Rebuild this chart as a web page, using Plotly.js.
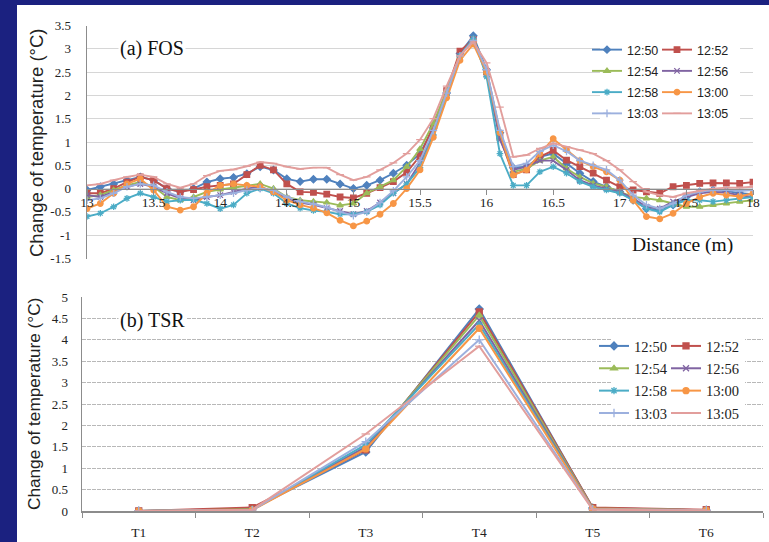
<!DOCTYPE html>
<html>
<head>
<meta charset="utf-8">
<script src="https://cdn.plot.ly/plotly-3.0.1.min.js"></script>
<style>
html,body{margin:0;padding:0;background:#1b2180;}
#chart{width:769px;height:542px;}
</style>
</head>
<body>
<div id="chart"></div>
<script>
// ---------- DATA ----------
var seriesNames = ["12:50","12:52","12:54","12:56","12:58","13:00","13:03","13:05"];

// (a) FOS : distance (m)
var distance = [13.0,13.1,13.2,13.3,13.4,13.5,13.6,13.7,13.8,13.9,
                14.0,14.1,14.2,14.3,14.4,14.5,14.6,14.7,14.8,14.9,
                15.0,15.1,15.2,15.3,15.4,15.5,15.6,15.7,15.8,15.9,
                16.0,16.1,16.2,16.3,16.4,16.5,16.6,16.7,16.8,16.9,
                17.0,17.1,17.2,17.3,17.4,17.5,17.6,17.7,17.8,17.9,18.0];

var fos1250 = [-0.03,0.04,0.1,0.18,0.25,0.18,0.0,-0.07,0.0,0.14,
               0.21,0.24,0.32,0.47,0.4,0.21,0.15,0.2,0.2,0.1,
               0.0,0.07,0.18,0.33,0.5,0.75,1.3,2.05,2.9,3.28,
               2.55,1.2,0.45,0.47,0.68,0.75,0.54,0.33,0.15,0.04,
               -0.07,-0.25,-0.43,-0.46,-0.35,-0.18,-0.07,-0.03,-0.05,-0.1,-0.12];
var fos1252 = [-0.1,-0.1,0.0,0.14,0.25,0.18,0.0,-0.07,-0.02,0.04,
               0.07,0.1,0.3,0.5,0.4,0.1,-0.07,-0.08,-0.12,-0.18,
               -0.2,-0.1,0.02,0.15,0.35,0.7,1.35,2.1,2.95,3.2,
               2.5,1.1,0.3,0.4,0.68,0.82,0.61,0.47,0.33,0.18,
               0.04,-0.03,-0.07,-0.1,0.04,0.07,0.11,0.12,0.12,0.11,0.14];
var fos1254 = [-0.18,-0.14,-0.03,0.07,0.14,0.04,-0.18,-0.25,-0.18,-0.07,
               -0.02,0.02,0.07,0.1,0.0,-0.18,-0.25,-0.28,-0.3,-0.36,
               -0.32,-0.1,0.04,0.18,0.47,0.85,1.4,2.1,2.85,3.2,
               2.5,1.1,0.36,0.43,0.6,0.68,0.43,0.25,0.11,0.04,
               -0.07,-0.18,-0.21,-0.25,-0.32,-0.39,-0.39,-0.35,-0.32,-0.28,-0.25];
var fos1256 = [-0.14,-0.18,-0.07,0.04,0.1,0.04,-0.1,-0.21,-0.25,-0.18,
               -0.14,-0.07,0.0,0.04,-0.07,-0.21,-0.3,-0.35,-0.42,-0.48,
               -0.55,-0.48,-0.3,-0.1,0.1,0.55,1.2,2.0,2.85,3.2,
               2.45,1.05,0.4,0.47,0.6,0.6,0.4,0.18,0.07,0.0,
               -0.07,-0.21,-0.39,-0.43,-0.28,-0.18,-0.1,-0.07,-0.09,-0.14,-0.18];
var fos1258 = [-0.6,-0.53,-0.39,-0.21,-0.1,-0.18,-0.28,-0.25,-0.24,-0.32,
               -0.43,-0.35,-0.1,0.0,-0.1,-0.32,-0.42,-0.47,-0.5,-0.55,
               -0.55,-0.5,-0.35,-0.1,0.1,0.45,1.15,2.0,2.85,3.22,
               2.4,0.75,0.07,0.07,0.36,0.47,0.33,0.15,0.04,-0.03,
               -0.1,-0.25,-0.43,-0.5,-0.35,-0.25,-0.25,-0.28,-0.25,-0.21,-0.18];
var fos1300 = [-0.43,-0.32,-0.1,0.1,0.21,-0.03,-0.39,-0.46,-0.39,-0.1,
               0.07,0.1,0.07,0.04,-0.07,-0.25,-0.35,-0.42,-0.52,-0.68,
               -0.8,-0.7,-0.55,-0.32,0.0,0.4,1.1,1.95,2.75,3.1,
               2.5,1.2,0.29,0.4,0.75,1.07,0.83,0.6,0.47,0.36,
               0.18,-0.25,-0.6,-0.65,-0.53,-0.32,-0.18,-0.1,-0.14,-0.17,-0.1];
var fos1303 = [-0.25,-0.21,-0.1,0.04,0.1,0.07,-0.07,-0.18,-0.21,-0.18,
               -0.14,-0.1,-0.03,0.0,-0.03,-0.18,-0.28,-0.33,-0.4,-0.5,
               -0.58,-0.5,-0.3,-0.05,0.25,0.6,1.25,2.05,2.85,3.18,
               2.55,1.25,0.47,0.54,0.8,0.93,0.8,0.6,0.5,0.4,
               0.18,-0.14,-0.35,-0.43,-0.32,-0.14,-0.07,-0.03,-0.03,-0.05,-0.03];
var fos1305 = [0.07,0.1,0.18,0.25,0.3,0.25,0.1,0.02,0.1,0.28,
               0.38,0.41,0.48,0.57,0.54,0.47,0.42,0.45,0.45,0.3,
               0.18,0.25,0.4,0.55,0.75,1.05,1.5,2.2,2.85,3.15,
               2.7,1.75,0.68,0.72,0.86,0.97,0.9,0.83,0.75,0.6,
               0.4,0.15,-0.07,-0.14,-0.18,-0.1,-0.05,0.0,0.02,0.02,0.04];

// (b) TSR : sensors
var sensors = ["T1","T2","T3","T4","T5","T6"];
var tsr1250 = [0, 0.05, 1.38, 4.72, 0.07, 0.02];
var tsr1252 = [0, 0.08, 1.43, 4.65, 0.08, 0.03];
var tsr1254 = [0, 0.04, 1.47, 4.57, 0.06, 0.02];
var tsr1256 = [0, 0.03, 1.50, 4.45, 0.05, 0.02];
var tsr1258 = [0, 0.03, 1.55, 4.36, 0.05, 0.02];
var tsr1300 = [0, 0.02, 1.45, 4.27, 0.05, 0.02];
var tsr1303 = [0, 0.02, 1.62, 4.00, 0.04, 0.01];
var tsr1305 = [0, 0.03, 1.80, 3.85, 0.03, 0.01];

var yTickValsA = [-1.5,-1,-0.5,0,0.5,1,1.5,2,2.5,3,3.5];
var yTickTextA = ["-1.5","-1","-0.5","0","0.5","1","1.5","2","2.5","3","3.5"];
var xTickValsA = [13,13.5,14,14.5,15,15.5,16,16.5,17,17.5,18];
var xTickTextA = ["13","13.5","14","14.5","15","15.5","16","16.5","17","17.5","18"];
var yTickValsB = [0,0.5,1,1.5,2,2.5,3,3.5,4,4.5,5];
var yTickTextB = ["0","0.5","1","1.5","2","2.5","3","3.5","4","4.5","5"];

// ---------- STYLE ----------
var colors = ["#4F81BD","#C0504D","#9BBB59","#8064A2","#4BACC6","#F79646","#9CB0DE","#E29E9C"];
var symbols = ["diamond","square","triangle-up","x-thin-open","asterisk-open","circle","cross-thin-open","line-ew-open"];
var fosData = [fos1250,fos1252,fos1254,fos1256,fos1258,fos1300,fos1303,fos1305];
var tsrData = [tsr1250,tsr1252,tsr1254,tsr1256,tsr1258,tsr1300,tsr1303,tsr1305];

var W = 769, H = 542;
function px(x){ return x / W; }
function py(y){ return 1 - y / H; }

var traces = [];
for (var i = 0; i < seriesNames.length; i++) {
  traces.push({
    type: "scatter", mode: "lines+markers",
    x: distance, y: fosData[i], name: seriesNames[i],
    xaxis: "x", yaxis: "y",
    legend: (i % 2 === 0) ? "legend" : "legend2",
    legendgroup: "a" + i,
    line: {color: colors[i], width: 1.9},
    marker: {symbol: symbols[i], size: 5.5, color: colors[i], line: {color: colors[i], width: 1.3}}
  });
}
for (var j = 0; j < seriesNames.length; j++) {
  traces.push({
    type: "scatter", mode: "lines+markers",
    x: sensors, y: tsrData[j], name: seriesNames[j],
    xaxis: "x2", yaxis: "y2",
    legend: (j % 2 === 0) ? "legend3" : "legend4",
    legendgroup: "b" + j,
    line: {color: colors[j], width: 2},
    marker: {symbol: symbols[j], size: 6, color: colors[j], line: {color: colors[j], width: 1.3}}
  });
}

var serif = "Liberation Serif";
var sans = "Liberation Sans";

var legA = function(xp){ return {
  x: px(xp), y: py(35), xanchor: "left", yanchor: "top",
  bgcolor: "rgba(0,0,0,0)", borderwidth: 0,
  font: {family: sans, size: 12.5, color: "#222"},
  tracegroupgap: 2, orientation: "v"
};};
var legB = function(xp){ return {
  x: px(xp), y: py(330), xanchor: "left", yanchor: "top",
  bgcolor: "rgba(0,0,0,0)", borderwidth: 0,
  font: {family: serif, size: 14.5, color: "#222"},
  tracegroupgap: 0.5, orientation: "v"
};};

var layout = {
  width: W, height: H,
  margin: {l: 0, r: 0, t: 0, b: 0},
  paper_bgcolor: "#1b2180",
  plot_bgcolor: "rgba(0,0,0,0)",
  showlegend: true,
  xaxis: {
    domain: [px(87), px(753)], range: [13, 18],
    anchor: "free", position: py(188.6),
    tickvals: xTickValsA, ticktext: xTickTextA,
    showgrid: false, zeroline: false,
    showline: true, linecolor: "#8c8c8c", linewidth: 1.5,
    ticks: "outside", ticklen: 5, tickcolor: "#8c8c8c",
    ticklabelstandoff: -4,
    tickfont: {family: serif, size: 13.5, color: "#222"}
  },
  yaxis: {
    domain: [py(258.5), py(25.5)], range: [-1.5, 3.5], anchor: "x",
    tickvals: yTickValsA, ticktext: yTickTextA,
    showgrid: true, gridcolor: "#d6d6d6", gridwidth: 1,
    zeroline: false, showline: true, linecolor: "#8c8c8c", linewidth: 1.5,
    ticks: "", ticklabelstandoff: 12,
    tickfont: {family: serif, size: 13, color: "#222"}
  },
  xaxis2: {
    domain: [px(82), px(763)], type: "category", categoryorder: "array", categoryarray: sensors,
    range: [-0.5, 5.5], anchor: "y2",
    showgrid: false, zeroline: false,
    showline: true, linecolor: "#8c8c8c", linewidth: 1.5,
    ticks: "outside", tickson: "boundaries", ticklen: 5, tickcolor: "#8c8c8c",
    ticklabelstandoff: 8,
    tickfont: {family: serif, size: 13.5, color: "#222"}
  },
  yaxis2: {
    domain: [py(511), py(297)], range: [0, 5], anchor: "x2",
    tickvals: yTickValsB, ticktext: yTickTextB,
    showgrid: true, gridcolor: "#b8b8b8", gridwidth: 1, griddash: "4px,1px",
    zeroline: false, showline: true, linecolor: "#8c8c8c", linewidth: 1.5,
    ticks: "", ticklabelstandoff: 10,
    tickfont: {family: serif, size: 13, color: "#222"}
  },
  legend: legA(587),
  legend2: legA(657),
  legend3: legB(594),
  legend4: legB(666),
  shapes: [
    {type: "rect", xref: "paper", yref: "paper", x0: px(17), x1: 1, y0: 0, y1: py(5),
     fillcolor: "#ffffff", line: {width: 0}, layer: "below"},
    {type: "rect", xref: "paper", yref: "paper", x0: px(600), x1: px(740), y0: py(128), y1: py(35),
     fillcolor: "#ffffff", line: {width: 0}, layer: "above"},
    {type: "rect", xref: "paper", yref: "paper", x0: px(612), x1: px(745), y0: py(421), y1: py(333),
     fillcolor: "#ffffff", line: {width: 0}, layer: "above"}
  ],
  annotations: [
    {text: "(a) FOS", xref: "paper", yref: "paper", x: px(118), y: py(48), xanchor: "left", yanchor: "middle",
     showarrow: false, bgcolor: "#ffffff", font: {family: serif, size: 20, color: "#111"}},
    {text: "(b) TSR", xref: "paper", yref: "paper", x: px(118), y: py(320), xanchor: "left", yanchor: "middle",
     showarrow: false, bgcolor: "#ffffff", font: {family: serif, size: 20, color: "#111"}},
    {text: "Distance (m)", xref: "paper", yref: "paper", x: px(630), y: py(245), xanchor: "left", yanchor: "middle",
     showarrow: false, font: {family: serif, size: 19.5, color: "#111"}},
    {text: "Change of temperature (°C)", xref: "paper", yref: "paper", x: px(36), y: py(143),
     xanchor: "center", yanchor: "middle", textangle: -90, showarrow: false,
     font: {family: sans, size: 18.5, color: "#222"}},
    {text: "Change of temperature (°C)", xref: "paper", yref: "paper", x: px(34), y: py(404),
     xanchor: "center", yanchor: "middle", textangle: -90, showarrow: false,
     font: {family: sans, size: 17.2, color: "#222"}}
  ]
};

Plotly.newPlot("chart", traces, layout, {displayModeBar: false, staticPlot: true});
</script>
</body>
</html>
